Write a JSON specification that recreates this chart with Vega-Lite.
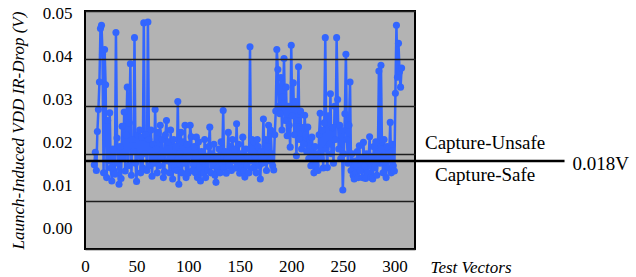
{
  "$schema": "https://vega.github.io/schema/vega-lite/v6.json",
  "width": 330,
  "height": 238,
  "autosize": {"type": "none"},
  "padding": {"left": 85, "top": 11, "right": 221, "bottom": 28},
  "background": "white",
  "config": {
    "font": "Liberation Serif",
    "view": {"fill": "#b3b3b3", "stroke": "black", "strokeWidth": 2}
  },
  "datasets": {
    "drops": [
      {"vector":9,"drop":0.0177},{"vector":10,"drop":0.0203},{"vector":11,"drop":0.0165},{"vector":12,"drop":0.0247},{"vector":13,"drop":0.0293},{"vector":14,"drop":0.0351},{"vector":15,"drop":0.0463},{"vector":16,"drop":0.0470},{"vector":17,"drop":0.0409},{"vector":18,"drop":0.0160},
      {"vector":19,"drop":0.0419},{"vector":20,"drop":0.0345},{"vector":21,"drop":0.0150},{"vector":22,"drop":0.0270},{"vector":23,"drop":0.0185},{"vector":24,"drop":0.0286},{"vector":25,"drop":0.0170},{"vector":26,"drop":0.0143},{"vector":27,"drop":0.0210},{"vector":28,"drop":0.0165},
      {"vector":29,"drop":0.0157},{"vector":30,"drop":0.0455},{"vector":31,"drop":0.0233},{"vector":32,"drop":0.0180},{"vector":33,"drop":0.0136},{"vector":34,"drop":0.0215},{"vector":35,"drop":0.0148},{"vector":36,"drop":0.0258},{"vector":37,"drop":0.0190},{"vector":38,"drop":0.0288},
      {"vector":39,"drop":0.0164},{"vector":40,"drop":0.0240},{"vector":41,"drop":0.0340},{"vector":42,"drop":0.0175},{"vector":43,"drop":0.0265},{"vector":44,"drop":0.0389},{"vector":45,"drop":0.0155},{"vector":46,"drop":0.0230},{"vector":47,"drop":0.0205},{"vector":48,"drop":0.0444},
      {"vector":49,"drop":0.0180},{"vector":50,"drop":0.0142},{"vector":51,"drop":0.0240},{"vector":52,"drop":0.0195},{"vector":53,"drop":0.0250},{"vector":54,"drop":0.0160},{"vector":55,"drop":0.0235},{"vector":56,"drop":0.0170},{"vector":57,"drop":0.0475},{"vector":58,"drop":0.0200},
      {"vector":59,"drop":0.0240},{"vector":60,"drop":0.0165},{"vector":61,"drop":0.0477},{"vector":62,"drop":0.0230},{"vector":63,"drop":0.0175},{"vector":64,"drop":0.0250},{"vector":65,"drop":0.0153},{"vector":66,"drop":0.0220},{"vector":67,"drop":0.0180},{"vector":68,"drop":0.0293},
      {"vector":69,"drop":0.0210},{"vector":70,"drop":0.0160},{"vector":71,"drop":0.0245},{"vector":72,"drop":0.0175},{"vector":73,"drop":0.0260},{"vector":74,"drop":0.0190},{"vector":75,"drop":0.0230},{"vector":76,"drop":0.0150},{"vector":77,"drop":0.0163},{"vector":78,"drop":0.0240},
      {"vector":79,"drop":0.0270},{"vector":80,"drop":0.0185},{"vector":81,"drop":0.0225},{"vector":82,"drop":0.0160},{"vector":83,"drop":0.0250},{"vector":84,"drop":0.0195},{"vector":85,"drop":0.0147},{"vector":86,"drop":0.0230},{"vector":87,"drop":0.0170},{"vector":88,"drop":0.0215},
      {"vector":89,"drop":0.0165},{"vector":90,"drop":0.0310},{"vector":91,"drop":0.0136},{"vector":92,"drop":0.0200},{"vector":93,"drop":0.0245},{"vector":94,"drop":0.0160},{"vector":95,"drop":0.0225},{"vector":96,"drop":0.0180},{"vector":97,"drop":0.0260},{"vector":98,"drop":0.0150},
      {"vector":99,"drop":0.0220},{"vector":100,"drop":0.0159},{"vector":101,"drop":0.0195},{"vector":102,"drop":0.0260},{"vector":103,"drop":0.0236},{"vector":104,"drop":0.0165},{"vector":105,"drop":0.0178},{"vector":106,"drop":0.0215},{"vector":107,"drop":0.0160},{"vector":108,"drop":0.0235},
      {"vector":109,"drop":0.0150},{"vector":110,"drop":0.0225},{"vector":111,"drop":0.0170},{"vector":112,"drop":0.0143},{"vector":113,"drop":0.0205},{"vector":114,"drop":0.0185},{"vector":115,"drop":0.0160},{"vector":116,"drop":0.0230},{"vector":117,"drop":0.0150},{"vector":118,"drop":0.0195},
      {"vector":119,"drop":0.0165},{"vector":120,"drop":0.0215},{"vector":121,"drop":0.0256},{"vector":122,"drop":0.0160},{"vector":123,"drop":0.0200},{"vector":124,"drop":0.0175},{"vector":125,"drop":0.0220},{"vector":126,"drop":0.0155},{"vector":127,"drop":0.0140},{"vector":128,"drop":0.0195},
      {"vector":129,"drop":0.0170},{"vector":130,"drop":0.0210},{"vector":131,"drop":0.0160},{"vector":132,"drop":0.0225},{"vector":133,"drop":0.0180},{"vector":134,"drop":0.0291},{"vector":135,"drop":0.0170},{"vector":136,"drop":0.0205},{"vector":137,"drop":0.0159},{"vector":138,"drop":0.0190},
      {"vector":139,"drop":0.0245},{"vector":140,"drop":0.0175},{"vector":141,"drop":0.0215},{"vector":142,"drop":0.0165},{"vector":143,"drop":0.0230},{"vector":144,"drop":0.0185},{"vector":145,"drop":0.0210},{"vector":146,"drop":0.0170},{"vector":147,"drop":0.0263},{"vector":148,"drop":0.0180},
      {"vector":149,"drop":0.0220},{"vector":150,"drop":0.0159},{"vector":151,"drop":0.0200},{"vector":152,"drop":0.0170},{"vector":153,"drop":0.0235},{"vector":154,"drop":0.0165},{"vector":155,"drop":0.0151},{"vector":156,"drop":0.0210},{"vector":157,"drop":0.0175},{"vector":158,"drop":0.0195},
      {"vector":159,"drop":0.0160},{"vector":160,"drop":0.0425},{"vector":161,"drop":0.0185},{"vector":162,"drop":0.0230},{"vector":163,"drop":0.0170},{"vector":164,"drop":0.0225},{"vector":165,"drop":0.0195},{"vector":166,"drop":0.0160},{"vector":167,"drop":0.0230},{"vector":168,"drop":0.0215},
      {"vector":169,"drop":0.0175},{"vector":170,"drop":0.0147},{"vector":171,"drop":0.0205},{"vector":172,"drop":0.0180},{"vector":173,"drop":0.0273},{"vector":174,"drop":0.0190},{"vector":175,"drop":0.0230},{"vector":176,"drop":0.0165},{"vector":177,"drop":0.0215},{"vector":178,"drop":0.0260},
      {"vector":179,"drop":0.0185},{"vector":180,"drop":0.0250},{"vector":181,"drop":0.0200},{"vector":182,"drop":0.0175},{"vector":183,"drop":0.0166},{"vector":184,"drop":0.0240},{"vector":185,"drop":0.0290},{"vector":186,"drop":0.0419},{"vector":187,"drop":0.0377},{"vector":188,"drop":0.0300},
      {"vector":189,"drop":0.0284},{"vector":190,"drop":0.0360},{"vector":191,"drop":0.0250},{"vector":192,"drop":0.0320},{"vector":193,"drop":0.0400},{"vector":194,"drop":0.0270},{"vector":195,"drop":0.0340},{"vector":196,"drop":0.0238},{"vector":197,"drop":0.0300},{"vector":198,"drop":0.0260},
      {"vector":199,"drop":0.0214},{"vector":200,"drop":0.0428},{"vector":201,"drop":0.0280},{"vector":202,"drop":0.0349},{"vector":203,"drop":0.0240},{"vector":204,"drop":0.0310},{"vector":205,"drop":0.0196},{"vector":206,"drop":0.0270},{"vector":207,"drop":0.0383},{"vector":208,"drop":0.0230},
      {"vector":209,"drop":0.0290},{"vector":210,"drop":0.0210},{"vector":211,"drop":0.0255},{"vector":212,"drop":0.0220},{"vector":213,"drop":0.0281},{"vector":214,"drop":0.0240},{"vector":215,"drop":0.0205},{"vector":216,"drop":0.0256},{"vector":217,"drop":0.0190},{"vector":218,"drop":0.0230},
      {"vector":219,"drop":0.0175},{"vector":220,"drop":0.0235},{"vector":221,"drop":0.0199},{"vector":222,"drop":0.0160},{"vector":223,"drop":0.0215},{"vector":224,"drop":0.0175},{"vector":225,"drop":0.0200},{"vector":226,"drop":0.0165},{"vector":227,"drop":0.0240},{"vector":228,"drop":0.0285},
      {"vector":229,"drop":0.0190},{"vector":230,"drop":0.0250},{"vector":231,"drop":0.0170},{"vector":232,"drop":0.0265},{"vector":233,"drop":0.0444},{"vector":234,"drop":0.0210},{"vector":235,"drop":0.0171},{"vector":236,"drop":0.0280},{"vector":237,"drop":0.0220},{"vector":238,"drop":0.0326},
      {"vector":239,"drop":0.0200},{"vector":240,"drop":0.0255},{"vector":241,"drop":0.0180},{"vector":242,"drop":0.0300},{"vector":243,"drop":0.0230},{"vector":244,"drop":0.0444},{"vector":245,"drop":0.0314},{"vector":246,"drop":0.0210},{"vector":247,"drop":0.0260},{"vector":248,"drop":0.0190},
      {"vector":249,"drop":0.0249},{"vector":250,"drop":0.0124},{"vector":251,"drop":0.0200},{"vector":252,"drop":0.0284},{"vector":253,"drop":0.0409},{"vector":254,"drop":0.0230},{"vector":255,"drop":0.0180},{"vector":256,"drop":0.0260},{"vector":257,"drop":0.0351},{"vector":258,"drop":0.0165},
      {"vector":259,"drop":0.0200},{"vector":260,"drop":0.0155},{"vector":261,"drop":0.0147},{"vector":262,"drop":0.0185},{"vector":263,"drop":0.0160},{"vector":264,"drop":0.0205},{"vector":265,"drop":0.0150},{"vector":266,"drop":0.0217},{"vector":267,"drop":0.0165},{"vector":268,"drop":0.0190},
      {"vector":269,"drop":0.0150},{"vector":270,"drop":0.0224},{"vector":271,"drop":0.0175},{"vector":272,"drop":0.0148},{"vector":273,"drop":0.0200},{"vector":274,"drop":0.0160},{"vector":275,"drop":0.0185},{"vector":276,"drop":0.0236},{"vector":277,"drop":0.0150},{"vector":278,"drop":0.0195},
      {"vector":279,"drop":0.0147},{"vector":280,"drop":0.0215},{"vector":281,"drop":0.0170},{"vector":282,"drop":0.0225},{"vector":283,"drop":0.0155},{"vector":284,"drop":0.0200},{"vector":285,"drop":0.0374},{"vector":286,"drop":0.0180},{"vector":287,"drop":0.0386},{"vector":288,"drop":0.0210},
      {"vector":289,"drop":0.0160},{"vector":290,"drop":0.0230},{"vector":291,"drop":0.0190},{"vector":292,"drop":0.0150},{"vector":293,"drop":0.0215},{"vector":294,"drop":0.0170},{"vector":295,"drop":0.0200},{"vector":296,"drop":0.0266},{"vector":297,"drop":0.0160},{"vector":298,"drop":0.0220},
      {"vector":299,"drop":0.0175},{"vector":300,"drop":0.0164},{"vector":301,"drop":0.0327},{"vector":302,"drop":0.0470},{"vector":303,"drop":0.0361},{"vector":304,"drop":0.0432},{"vector":305,"drop":0.0373},{"vector":306,"drop":0.0340},{"vector":307,"drop":0.0380}
    ],
    "threshold": [{"level": 0.0185, "from": 0, "to": 465}],
    "notes": [
      {"label": "Capture-Unsafe", "px": 388, "py": 0.02095},
      {"label": "Capture-Safe", "px": 388, "py": 0.01429},
      {"label": "0.018V", "px": 500, "py": 0.0166}
    ]
  },
  "layer": [
    {
      "data": {"name": "drops"},
      "mark": {
        "type": "line",
        "color": "#3366ff",
        "strokeWidth": 2.5,
        "point": {"filled": true, "size": 50, "color": "#3366ff", "opacity": 1}
      },
      "encoding": {
        "x": {
          "field": "vector",
          "type": "quantitative",
          "title": "Test Vectors",
          "scale": {"domain": [0, 320], "nice": false, "zero": false},
          "axis": {
            "values": [0, 50, 100, 150, 200, 250, 300],
            "grid": false,
            "ticks": false,
            "tickSize": 0,
            "domain": false,
            "labelFlush": false,
            "labelFont": "Liberation Serif",
            "labelFontSize": 17,
            "labelColor": "black",
            "labelPadding": 9,
            "title": "Test Vectors",
            "titleFont": "Liberation Serif",
            "titleFontSize": 17,
            "titleFontStyle": "italic",
            "titleFontWeight": "normal",
            "titleColor": "black",
            "titleAlign": "left",
            "titleBaseline": "alphabetic",
            "titleX": 345,
            "titleY": 23
          }
        },
        "y": {
          "field": "drop",
          "type": "quantitative",
          "title": "Launch-Induced VDD IR-Drop (V)",
          "scale": {"domain": [0, 0.05], "nice": false},
          "axis": {
            "values": [0, 0.01, 0.02, 0.03, 0.04, 0.05],
            "format": ".2f",
            "grid": true,
            "gridColor": "#1e1e1e",
            "gridWidth": 1.3,
            "zindex": 1,
            "ticks": false,
            "tickSize": 0,
            "domain": false,
            "labelFont": "Liberation Serif",
            "labelFontSize": 17,
            "labelColor": "black",
            "labelPadding": 13,
            "labelBaseline": "middle",
            "labelBound": false,
            "encoding": {"labels": {"dy": {"value": {"expr": "466 * datum.value - 21"}}}},
            "title": "Launch-Induced VDD IR-Drop (V)",
            "titleFont": "Liberation Serif",
            "titleFontSize": 17,
            "titleFontStyle": "italic",
            "titleFontWeight": "normal",
            "titleColor": "black",
            "titleX": -58,
            "titleY": 119
          }
        }
      }
    },
    {
      "data": {"name": "threshold"},
      "mark": {"type": "rule", "color": "black", "strokeWidth": 2.5},
      "encoding": {
        "x": {"field": "from", "type": "quantitative", "title": "Test Vectors", "scale": {"domain": [0, 320], "nice": false, "zero": false}},
        "x2": {"field": "to"},
        "y": {"field": "level", "type": "quantitative", "title": "Launch-Induced VDD IR-Drop (V)", "scale": {"domain": [0, 0.05], "nice": false}}
      }
    },
    {
      "data": {"name": "notes"},
      "mark": {"type": "text", "font": "Liberation Serif", "fontSize": 19, "baseline": "alphabetic", "align": "center", "color": "black"},
      "encoding": {
        "x": {"field": "px", "type": "quantitative", "title": "Test Vectors", "scale": {"domain": [0, 320], "nice": false, "zero": false}},
        "y": {"field": "py", "type": "quantitative", "title": "Launch-Induced VDD IR-Drop (V)", "scale": {"domain": [0, 0.05], "nice": false}},
        "text": {"field": "label"}
      }
    }
  ]
}
